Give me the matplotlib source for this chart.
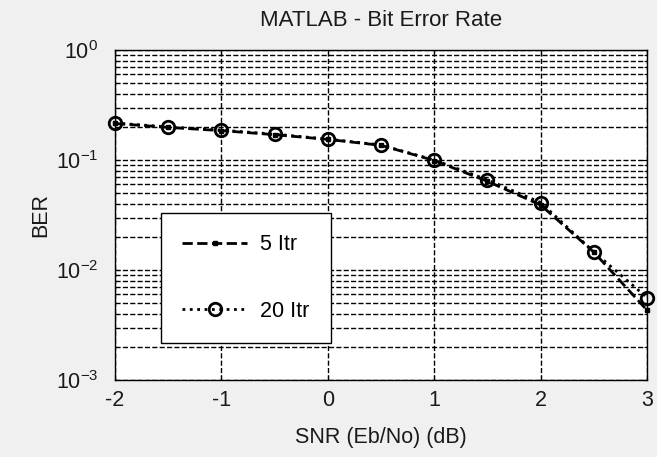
import numpy as np
import matplotlib.pyplot as plt

plt.rcParams['font.family'] = ['Liberation Sans', 'DejaVu Sans']
plt.rcParams['axes.unicode_minus'] = False

# dati
snr = [-2, -1.5, -1, -0.5, 0, 0.5, 1, 1.5, 2, 2.5, 3]
ber_5 = [0.215, 0.198, 0.185, 0.170, 0.154, 0.136, 0.099, 0.064, 0.039, 0.0145, 0.0043]
ber_20 = [0.217, 0.200, 0.187, 0.172, 0.155, 0.137, 0.100, 0.066, 0.041, 0.0146, 0.0056]

fig = plt.figure(figsize=(6.57, 4.57), dpi=100, facecolor='#f0f0f0')
ax = fig.add_axes([0.175, 0.1685, 0.81, 0.722])

ax.semilogy(snr, ber_5, '--', color='black', lw=2, marker='s', markersize=3,
            label='5 Itr', clip_on=False, zorder=3)
ax.semilogy(snr, ber_20, ':', color='black', lw=2, marker='o', markersize=9,
            markerfacecolor='none', markeredgewidth=2, label='20 Itr', clip_on=False, zorder=3)

ax.set_xlim(-2, 3)
ax.set_ylim(1e-3, 1)
ax.set_xticks([-2, -1, 0, 1, 2, 3])
ax.grid(True, which='major', linestyle='--', color='black', lw=1)
ax.grid(True, which='minor', axis='y', linestyle='--', color='black', lw=1)
ax.tick_params(which='both', direction='in', top=True, right=True, labelsize=15.5,
               labelcolor='#1a1a1a')
ax.tick_params(axis='x', pad=7)
ax.tick_params(axis='y', pad=12)
for s in ax.spines.values():
    s.set_linewidth(1)

ax.set_title('MATLAB - Bit Error Rate', fontsize=16, color='#1a1a1a', pad=17)
ax.set_xlabel('SNR (Eb/No) (dB)', fontsize=15.5, color='#1a1a1a', labelpad=12)
ax.set_ylabel('BER', fontsize=15.5, color='#1a1a1a', labelpad=3)

leg = ax.legend(loc='lower left', bbox_to_anchor=(0.086, 0.112), fontsize=15.5, fancybox=False,
                edgecolor='black', framealpha=1, handlelength=3.0, labelspacing=2.1,
                borderpad=1.0, handletextpad=0.6, borderaxespad=0)
leg.get_frame().set_linewidth(1)

fig.savefig('out.png', dpi=100, facecolor=fig.get_facecolor())
